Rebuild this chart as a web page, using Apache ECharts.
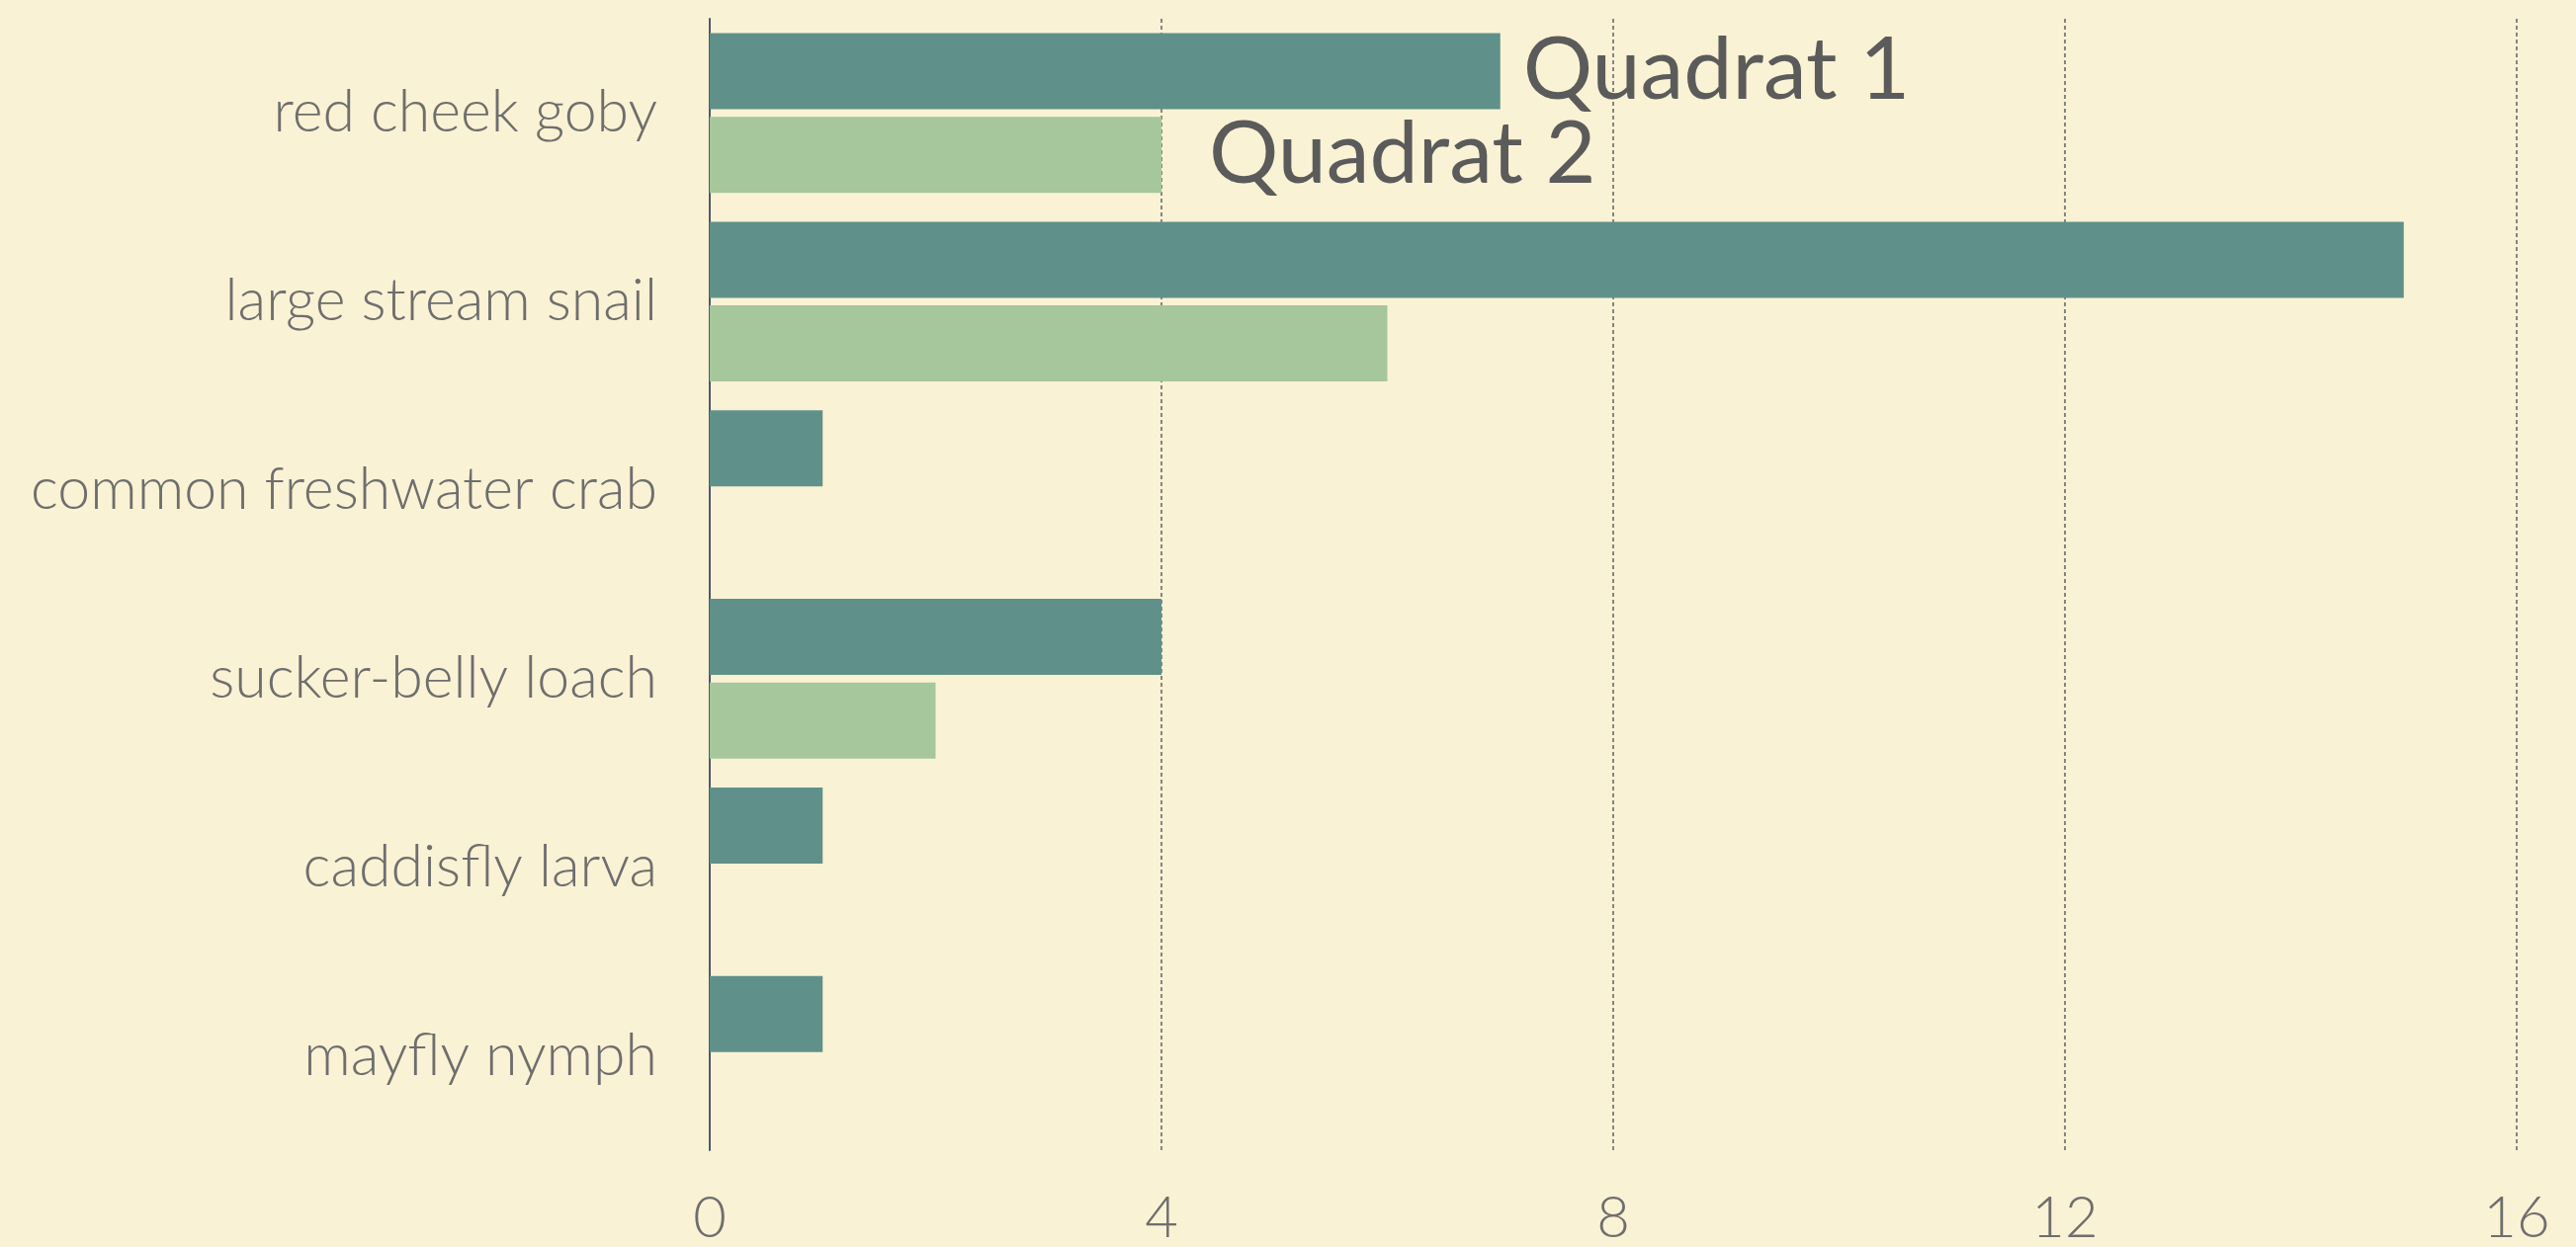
<!DOCTYPE html>
<html>
<head>
<meta charset="utf-8">
<script src="https://cdn.jsdelivr.net/npm/echarts@6/dist/echarts.min.js"></script>
<style>
html,body{margin:0;padding:0;background:#faf2d4;}
#c{width:2606px;height:1262px;}
</style>
</head>
<body>
<div id="c"></div>
<script>
const categories = ["red cheek goby", "large stream snail", "common freshwater crab", "sucker-belly loach", "caddisfly larva", "mayfly nymph"];
const quadrat1 = [7, 15, 1, 4, 1, 1];
const quadrat2 = [4, 6, 0, 2, 0, 0];
const seriesNames = ["Quadrat 1", "Quadrat 2"];
const xTicks = { min: 0, max: 16, interval: 4 };

const chart = echarts.init(document.getElementById('c'));
function withFirstLabel(arr) {
  return arr.map((v, i) => i === 0 ? { value: v, label: { show: true } } : v);
}
chart.setOption({
  backgroundColor: '#faf2d4',
  animation: false,
  grid: { left: 718, right: 60, top: 19, bottom: 92, containLabel: false },
  xAxis: {
    type: 'value', min: xTicks.min, max: xTicks.max, interval: xTicks.interval,
    axisLine: { show: false }, axisTick: { show: false },
    splitLine: { show: true, lineStyle: { color: '#858585', width: 2, type: [4, 3] } },
    axisLabel: { color: '#6e6e6e', fontFamily: 'Lato', fontWeight: 300, fontSize: 58, margin: 40 }
  },
  yAxis: {
    type: 'category', data: categories, inverse: true,
    axisLine: { show: true, lineStyle: { color: '#4f5872', width: 2 } },
    axisTick: { show: false },
    splitLine: { show: false },
    axisLabel: { color: '#6e6e6e', fontFamily: 'Lato', fontWeight: 300, fontSize: 59, margin: 53 }
  },
  series: [
    {
      name: seriesNames[0], type: 'bar', data: withFirstLabel(quadrat1),
      barWidth: 77, barGap: '10%',
      itemStyle: { color: '#5f918a' },
      label: { show: false, position: 'right', distance: 23, formatter: seriesNames[0],
        color: '#5b5b5b', fontFamily: 'Lato', fontSize: 88 }
    },
    {
      name: seriesNames[1], type: 'bar', data: withFirstLabel(quadrat2),
      barWidth: 77,
      itemStyle: { color: '#a5c79b' },
      label: { show: false, position: 'right', distance: 48, formatter: seriesNames[1],
        color: '#5b5b5b', fontFamily: 'Lato', fontSize: 88 }
    }
  ]
});
</script>
</body>
</html>
